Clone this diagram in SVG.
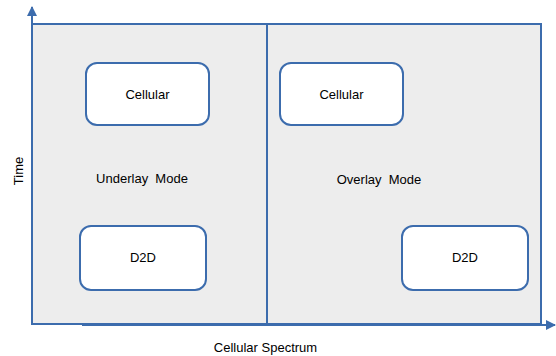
<svg xmlns="http://www.w3.org/2000/svg" width="556" height="356" viewBox="0 0 556 356">
  <style>
    .frame { fill: #ededed; stroke: #3c6cad; stroke-width: 2; }
    .line { fill: none; stroke: #3c6cad; stroke-width: 2; }
    .node rect { fill: #ffffff; stroke: #3c6cad; stroke-width: 2; }
    text { font-family: "Liberation Sans", Arial, sans-serif; font-size: 13px; fill: #000000; text-anchor: middle; }
  </style>
  <defs>
    <marker id="arrow" viewBox="0 0 10 10" refX="9" refY="5" markerWidth="5" markerHeight="5" orient="auto" markerUnits="strokeWidth">
      <path d="M0,0 L10,5 L0,10 z" fill="#3c6cad"/>
    </marker>
  </defs>

  <!-- spectrum/time plane -->
  <rect class="frame" x="32" y="24" width="509" height="300"/>
  <line class="line" x1="267" y1="24" x2="267" y2="324"/>

  <!-- axes -->
  <g id="connectors">
    <line class="line" x1="32" y1="324" x2="32" y2="7" marker-end="url(#arrow)"/>
    <line class="line" x1="82" y1="325" x2="555" y2="325" marker-end="url(#arrow)"/>
  </g>

  <g id="underlay-cellular" class="node">
    <rect x="86" y="63" width="123" height="62" rx="11"/>
    <text x="147.5" y="99">Cellular</text>
  </g>
  <g id="overlay-cellular" class="node">
    <rect x="280" y="63" width="123" height="62" rx="11"/>
    <text x="341.5" y="99">Cellular</text>
  </g>
  <g id="underlay-d2d" class="node">
    <rect x="80" y="226" width="126" height="64" rx="11"/>
    <text x="143" y="262">D2D</text>
  </g>
  <g id="overlay-d2d" class="node">
    <rect x="402" y="226" width="126" height="64" rx="11"/>
    <text x="465" y="262">D2D</text>
  </g>

  <text id="underlay-label" x="142" y="183" xml:space="preserve">Underlay  Mode</text>
  <text id="overlay-label" x="379" y="184" xml:space="preserve">Overlay  Mode</text>
  <text id="time-label" transform="translate(23,171) rotate(-90)">Time</text>
  <text id="spectrum-label" x="265.5" y="352" font-size="13.5">Cellular Spectrum</text>
</svg>
